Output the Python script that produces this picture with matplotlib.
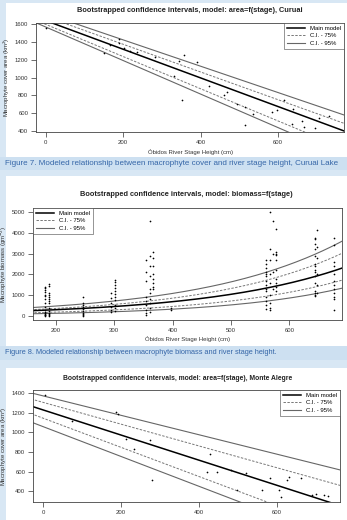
import matplotlib
matplotlib.use('Agg')
import matplotlib.pyplot as plt
import numpy as np
from matplotlib.patches import Rectangle
from matplotlib.lines import Line2D

plt.rcParams['font.family'] = ['Liberation Sans', 'DejaVu Sans']

# ---------------- data ----------------
# Figure 7 (Curuai): stage (cm) vs cover area (km2)
cur_stage = [0, 150, 166, 189, 190, 203, 217, 236, 283, 343, 356, 391, 331, 352,
             421, 468, 461, 494, 515, 515, 536, 584, 597, 614, 639, 635, 661, 668,
             694, 706, 730]
cur_area = [1555, 1271, 1368, 1439, 1391, 1335, 1297, 1286, 1226, 1189, 1252, 1174,
            1017, 748, 908, 841, 804, 699, 665, 467, 587, 609, 632, 748, 643, 479,
            505, 441, 434, 538, 561]
cur_main = (1642, -1.617)
cur_up75 = (1688, -1.565)
cur_up95 = (1722, -1.487)
cur_lo75 = (1600, -1.818)
cur_lo95 = (1570, -1.893)

# Figure 8: stage (cm) vs biomass (g m-2), columns of samples
bio_cols = [182, 189, 247, 295, 301, 398, 355, 361, 366, 560, 566, 572, 577, 643, 648, 677]
bio_vals = [
    [1400, 1350, 1250, 1150, 1000, 950, 800, 600, 450, 300, 200, 150, 100, 50, 20, 0],
    [1550, 1450, 1100, 1000, 900, 800, 700, 600, 400, 250, 150, 80, 30, 0],
    [900, 600, 500, 450, 350, 250, 150, 100, 50, 0],
    [1100, 850, 600, 450, 300, 200],
    [1750, 1650, 1500, 1350, 1200, 1050, 900, 750, 500, 400, 250],
    [400, 300],
    [2700, 2100, 1700, 900, 700, 500, 300, 150, 50],
    [4550, 2900, 2400, 1900, 1300, 1100, 800, 600, 400, 200],
    [3100, 2800, 2400, 2000, 1800, 1600, 1400, 1300],
    [2700, 2500, 2300, 2100, 2000, 1900, 1700, 1500, 1300, 1200, 900, 700, 500, 350],
    [5000, 3200, 2700, 2000, 1600, 1000, 600, 400, 300],
    [4550, 3000, 2100, 1300],
    [4200, 3100, 3000, 2950, 2700, 2200, 1800, 1600, 1400, 1200],
    [3750, 3700, 3450, 3200, 2900, 2500, 2400, 2200, 2100, 1900, 1600, 1200, 1100, 1000, 950],
    [4150, 3300, 2800, 2000, 1500, 1100],
    [3750, 3400, 2600, 2400, 2000, 1700, 1500, 1300, 1100, 900, 800, 300],
]
# exponential curves: value at x=160 and at x=700
bio_main = (250, 2400)
bio_up75 = (300, 3150)
bio_up95 = (400, 3750)
bio_lo75 = (150, 1800)
bio_lo95 = (100, 1400)

# Figure (Monte Alegre): stage vs cover area
ma_stage = [6, 73, 186, 193, 212, 234, 274, 278, 420, 428, 445, 482, 497, 520,
            560, 582, 605, 610, 625, 630, 660, 690, 700, 720, 730]
ma_area = [1376, 1119, 1205, 1184, 931, 825, 920, 516, 592, 777, 592, 612, 410,
           585, 410, 530, 410, 340, 510, 545, 530, 365, 370, 360, 350]
ma_main = (1227, -1.28)
ma_up75 = (1304, -1.11)
ma_up95 = (1370, -0.99)
ma_lo75 = (1143, -1.486)
ma_lo95 = (1057, -1.52)

xlabel = "Óbidos River Stage Height (cm)"
legend_labels = ["Main model", "C.I. - 75%", "C.I. - 95%"]

# ---------------- figure ----------------
W, H = 347, 520
fig = plt.figure(figsize=(W / 100, H / 100), dpi=100)
BG = '#d8e7f4'
fig.patch.set_facecolor(BG)
CAP = '#3566a8'


def rect(x0, y0, x1, y1, color):
    fig.patches.append(Rectangle((x0 / W, 1 - y1 / H), (x1 - x0) / W, (y1 - y0) / H,
                                 transform=fig.transFigure, facecolor=color,
                                 edgecolor='none', zorder=-5))


def ax_at(x0, y0, x1, y1):
    a = fig.add_axes([x0 / W, 1 - y1 / H, (x1 - x0) / W, (y1 - y0) / H])
    a.set_zorder(2)
    return a


def ftext(x, y, s, **kw):
    fig.text(x / W, 1 - y / H, s, **kw)


def rstyle(ax):
    for s in ax.spines.values():
        s.set_linewidth(0.6)
        s.set_color('#444444')
    ax.tick_params(direction='out', length=3.5, width=0.5, labelsize=4.3, pad=2,
                   colors='#333333')
    ax.set_facecolor('white')


def legend(ax, loc):
    h = [Line2D([], [], color='black', lw=1.1),
         Line2D([], [], color='#777777', lw=0.7, ls=(0, (2.5, 1.5))),
         Line2D([], [], color='#666666', lw=0.8)]
    lg = ax.legend(h, legend_labels, loc=loc, fontsize=4.3, frameon=True, fancybox=False,
                   borderpad=0.5, handlelength=3.0, labelspacing=0.35, handletextpad=0.8,
                   borderaxespad=0)
    lg.get_frame().set_edgecolor('#444444')
    lg.get_frame().set_linewidth(0.5)


MAINC, C75, C95 = 'black', '#777777', '#666666'

# white panels + caption bands
rect(6, 3, 347, 158, 'white')
rect(0, 157, 347, 170, '#cde0f1')
rect(6, 176, 347, 346, 'white')
rect(0, 346, 347, 360, '#cde0f1')
rect(6, 368, 347, 520, 'white')

# ---- panel 1 ----
ax1 = ax_at(36, 23, 344, 132)
rstyle(ax1)
xx = np.linspace(-50, 800, 10)
for (a, b), c, ls, lw in [(cur_up95, C95, '-', 0.8), (cur_lo95, C95, '-', 0.8),
                          (cur_up75, C75, (0, (2.5, 1.5)), 0.7), (cur_lo75, C75, (0, (2.5, 1.5)), 0.7),
                          (cur_main, MAINC, '-', 1.1)]:
    ax1.plot(xx, a + b * xx, color=c, ls=ls, lw=lw)
ax1.scatter(cur_stage, cur_area, s=1.5, color='black', zorder=5, linewidths=0)
ax1.set_xlim(-25, 770)
ax1.set_ylim(385, 1615)
ax1.set_xticks([0, 200, 400, 600])
ax1.set_yticks([400, 600, 800, 1000, 1200, 1400, 1600])
ax1.set_xlabel(xlabel, fontsize=4.3, labelpad=3.5, color='#333333')
ax1.set_ylabel("Macrophyte cover area (km$^2$)", fontsize=4.3, labelpad=2, color='#333333')
legend(ax1, 'upper right')
ftext(190, 10, "Bootstrapped confidence intervals, model: area=f(stage), Curuai",
      fontsize=5.3, fontweight='bold', ha='center', va='center', color='#222222')
ftext(5, 163.5, "Figure 7. Modeled relationship between macrophyte cover and river stage height, Curuai Lake",
      fontsize=5.8, ha='left', va='center', color=CAP)

# ---- panel 2 ----
ax2 = ax_at(33, 208, 342, 320)
rstyle(ax2)
xs = np.linspace(150, 710, 200)
for (v0, v1), c, ls, lw in [(bio_up95, C95, '-', 0.8), (bio_lo95, C95, '-', 0.8),
                            (bio_up75, C75, (0, (2.5, 1.5)), 0.7), (bio_lo75, C75, (0, (2.5, 1.5)), 0.7),
                            (bio_main, MAINC, '-', 1.1)]:
    k = np.log(v1 / v0) / (700 - 160)
    ax2.plot(xs, v0 * np.exp(k * (xs - 160)), color=c, ls=ls, lw=lw)
bx, by = [], []
for cx, vals in zip(bio_cols, bio_vals):
    bx += [cx] * len(vals)
    by += vals
ax2.scatter(bx, by, s=1.5, color='black', zorder=5, linewidths=0)
ax2.set_xlim(161, 690)
ax2.set_ylim(-200, 5200)
ax2.set_xticks([200, 300, 400, 500, 600])
ax2.set_yticks([0, 1000, 2000, 3000, 4000, 5000])
ax2.set_xlabel(xlabel, fontsize=4.3, labelpad=2.5, color='#333333')
ax2.set_ylabel("Macrophyte biomass (gm$^{-2}$)", fontsize=4.3, labelpad=2, color='#333333')
legend(ax2, 'upper left')
ftext(186, 195, "Bootstrapped confidence intervals, model: biomass=f(stage)",
      fontsize=5.3, fontweight='bold', ha='center', va='center', color='#222222')
ftext(5, 353, "Figure 8. Modeled relationship between macrophyte biomass and river stage height.",
      fontsize=5.3, ha='left', va='center', color=CAP)

# ---- panel 3 ----
ax3 = ax_at(33, 390, 340, 502)
rstyle(ax3)
for (a, b), c, ls, lw in [(ma_up95, C95, '-', 0.8), (ma_lo95, C95, '-', 0.8),
                          (ma_up75, C75, (0, (2.5, 1.5)), 0.7), (ma_lo75, C75, (0, (2.5, 1.5)), 0.7),
                          (ma_main, MAINC, '-', 1.1)]:
    ax3.plot(xx, a + b * xx, color=c, ls=ls, lw=lw)
ax3.scatter(ma_stage, ma_area, s=1.5, color='black', zorder=5, linewidths=0)
ax3.set_xlim(-26, 761)
ax3.set_ylim(290, 1430)
ax3.set_xticks([0, 200, 400, 600])
ax3.set_yticks([400, 600, 800, 1000, 1200, 1400])
ax3.set_ylabel("Macrophyte cover area (km$^2$)", fontsize=4.3, labelpad=2, color='#333333')
legend(ax3, 'upper right')
ftext(178, 379, "Bootstrapped confidence intervals, model: area=f(stage), Monte Alegre",
      fontsize=4.9, fontweight='bold', ha='center', va='center', color='#222222')

fig.savefig('out.png', dpi=100, facecolor=fig.get_facecolor())
